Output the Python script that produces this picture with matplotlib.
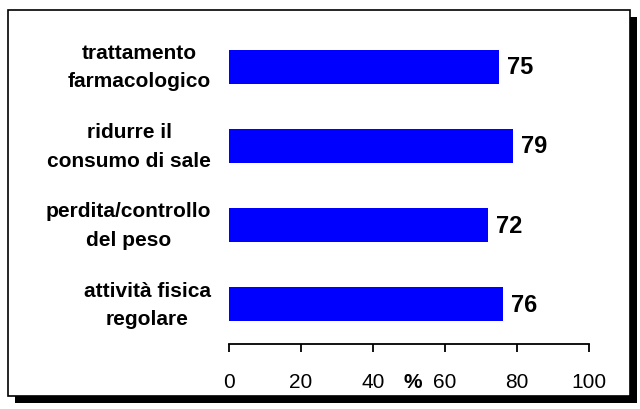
import matplotlib.pyplot as plt
from matplotlib.patches import Rectangle

# Data
categories = ['trattamento\nfarmacologico', 'ridurre il\nconsumo di sale',
              'perdita/controllo\ndel peso', 'attività fisica\nregolare']
values = [75, 79, 72, 76]
xticks = [0, 20, 40, 60, 80, 100]

plt.rcParams['font.family'] = ['Liberation Sans', 'DejaVu Sans']

fig = plt.figure(figsize=(6.4, 4.1), dpi=100)

# Frame with drop shadow (behind the axes)
W, H = 640, 410
fig.patches.append(Rectangle((15 / W, 1 - 404 / H), 622 / W, 386 / H,
                             transform=fig.transFigure, facecolor='black',
                             edgecolor='none', zorder=-2))
fig.patches.append(Rectangle((8 / W, 1 - 397 / H), 622 / W, 386 / H,
                             transform=fig.transFigure, facecolor='white',
                             edgecolor='black', linewidth=1.2, zorder=-1))

ax = fig.add_axes([229 / W, 1 - 345 / H, 360 / W, 317 / H])
ax.set_facecolor('none')

ypos = list(range(len(categories)))
ax.barh(ypos, values, height=0.43, color='#0000FF', edgecolor='none')
for y, v in zip(ypos, values):
    ax.text(v + 2.2, y, str(v), va='center', ha='left',
            fontsize=17, fontweight='bold')

ax.set_ylim(3.5, -0.5)
ax.set_xlim(0, 100)
ax.set_yticks(ypos)
ax.set_yticklabels(categories, fontsize=15, fontweight='bold', va='center',
                   multialignment='center', linespacing=1.62)
ax.tick_params(axis='y', length=0, pad=13)
ax.set_xticks(xticks)
ax.tick_params(axis='x', labelsize=15, length=6, width=1.3, pad=14)

for s in ['top', 'right', 'left']:
    ax.spines[s].set_visible(False)
ax.spines['bottom'].set_linewidth(1.3)

# "%" sits in line with the tick labels
ax.annotate('%', xy=(51, 0), xycoords=('data', 'axes fraction'),
            xytext=(0, -20), textcoords='offset points', ha='center',
            va='top', fontsize=15, fontweight='bold')

fig.savefig('out.png', dpi=100)
